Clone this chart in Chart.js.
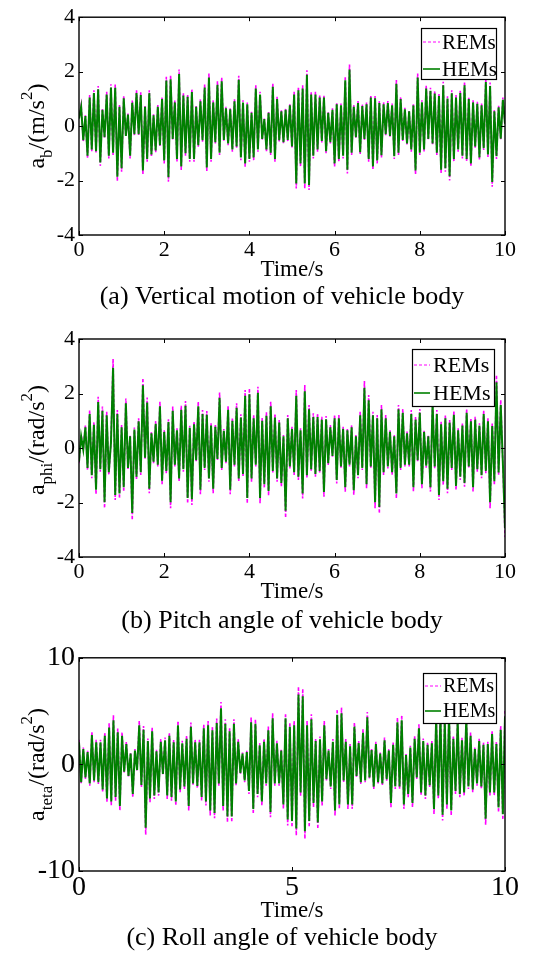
<!DOCTYPE html>
<html>
<head>
<meta charset="utf-8">
<script src="https://cdn.jsdelivr.net/npm/chart.js@4/dist/chart.umd.min.js"></script>
<style>
html,body{margin:0;padding:0;background:#fff;}
body{width:536px;height:958px;position:relative;overflow:hidden;}
.cv{position:absolute;left:0;display:block;}
</style>
</head>
<body>
<canvas id="c1" class="cv" style="top:0px" width="536" height="313"></canvas>
<canvas id="c2" class="cv" style="top:313px" width="536" height="324"></canvas>
<canvas id="c3" class="cv" style="top:637px" width="536" height="321"></canvas>
<script>
// ---------- data ----------
const T_END = 10;
const seriesNames = ['REMs', 'HEMs'];
const xTicksAB = [0, 2, 4, 6, 8, 10];
const yTicksAB = [-4, -2, 0, 2, 4];
const xTicksC = [0, 5, 10];
const yTicksC = [-10, 0, 10];
const captions = ['(a) Vertical motion of vehicle body', '(b) Pitch angle of vehicle body', '(c) Roll angle of vehicle body'];
const xTitle = 'Time/s';

// (a) vertical acceleration of body, m/s^2
const rems1 = [
0.3, 0.77, -0.57, 0.4, -1.19, 1.14, -0.94, 1.32, -1.0, 1.47,
-1.46, 0.65, -0.45, 1.26, -1.19, 1.54, -1.06, 1.53, -2.02, 0.77,
-1.68, 1.11, -0.39, 0.46, -1.19, 0.94, -0.33, 1.32, -0.33, 1.24,
-1.77, 0.77, -1.31, 1.32, -1.13, 0.43, -0.97, 0.77, -0.76, 1.08,
-1.37, 1.81, -2.04, 1.87, -0.51, 0.95, -1.31, 2.08, -1.61, 1.22,
-1.09, 1.17, -1.31, 1.36, -1.31, 0.77, -0.76, 0.99, -0.57, 1.54,
-1.65, 1.93, -1.31, 0.95, -0.64, 1.65, -1.06, 1.79, -0.55, 0.71,
-0.70, 0.67, -0.94, 0.99, -0.82, 1.85, -1.25, 0.95, -1.49, 0.87,
-1.31, 0.53, -1.25, 1.50, -0.94, 1.26, -0.51, 0.28, -0.94, 0.53,
-1.06, 1.57, -1.31, 1.08, -0.57, 0.59, -0.64, 0.65,
-0.55, 0.83, -0.82, 1.26, -2.29, 1.44, -1.49, 1.50, -2.29, 2.05,
-2.35, 1.26, -1.19, 1.26, -0.94, 1.14, -0.60, 1.14, -1.0, 0.53,
-0.64, 0.65, -1.49, 0.87, -1.31, 0.83, -1.19, 1.83, -1.74, 2.26,
-1.06, 0.77, -0.45, 0.92, -1.04, 0.80, -0.51, 0.87, -1.31, 1.14,
-1.61, 1.11, -1.37, 0.92, -1.16, 0.87, -0.33, 0.92, -0.39, 0.83,
-1.21, 1.69, -1.06, 1.08, -0.55, 0.67, -0.70, 0.59, -0.94, 0.83,
-1.77, 1.93, -1.06, 0.95, -0.94, 1.5, -0.51, 1.41, -0.70, 1.3,
-1.06, 1.2, -1.74, 1.63, -1.68, 1.1, -2.0, 1.32, -1.31, 1.14,
-0.94, 1.32, -1.19, 1.63, -1.31, 1.08, -1.49, 0.95, -0.82, 0.89,
-1.25, 0.83, -0.88, 1.76, -1.13, 1.6, -2.23, 0.59, -1.21, 0.75,
-0.5, 1.05, 0.1
];
const hems1 = [
0.28, 0.71, -0.52, 0.37, -1.09, 1.05, -0.86, 1.21, -0.92, 1.35,
-1.34, 0.60, -0.41, 1.16, -1.09, 1.42, -0.98, 1.41, -1.86, 0.71,
-1.55, 1.02, -0.36, 0.42, -1.09, 0.86, -0.30, 1.21, -0.30, 1.14,
-1.63, 0.71, -1.21, 1.21, -1.04, 0.40, -0.89, 0.71, -0.70, 0.99,
-1.26, 1.67, -1.88, 1.72, -0.47, 0.87, -1.21, 1.91, -1.48, 1.12,
-1.00, 1.08, -1.21, 1.25, -1.21, 0.71, -0.70, 0.91, -0.52, 1.42,
-1.52, 1.78, -1.21, 0.87, -0.59, 1.52, -0.98, 1.65, -0.51, 0.65,
-0.64, 0.62, -0.86, 0.91, -0.75, 1.70, -1.15, 0.87, -1.37, 0.80,
-1.21, 0.49, -1.15, 1.38, -0.86, 1.16, -0.47, 0.26, -0.86, 0.49,
-0.98, 1.44, -1.21, 0.99, -0.52, 0.54, -0.59, 0.60,
-0.51, 0.76, -0.75, 1.16, -2.11, 1.32, -1.37, 1.38, -2.11, 1.89,
-2.16, 1.16, -1.09, 1.16, -0.86, 1.05, -0.55, 1.05, -0.92, 0.49,
-0.59, 0.60, -1.37, 0.80, -1.21, 0.76, -1.09, 1.68, -1.60, 2.08,
-0.98, 0.71, -0.41, 0.85, -0.96, 0.74, -0.47, 0.80, -1.21, 1.05,
-1.48, 1.02, -1.26, 0.85, -1.07, 0.80, -0.30, 0.85, -0.36, 0.76,
-1.11, 1.55, -0.98, 0.99, -0.51, 0.62, -0.64, 0.54, -0.86, 0.76,
-1.63, 1.78, -0.98, 0.87, -0.86, 1.38, -0.47, 1.30, -0.64, 1.20,
-0.98, 1.10, -1.60, 1.50, -1.55, 1.01, -1.84, 1.21, -1.21, 1.05,
-0.86, 1.21, -1.09, 1.50, -1.21, 0.99, -1.37, 0.87, -0.75, 0.82,
-1.15, 0.76, -0.81, 1.62, -1.04, 1.47, -2.05, 0.54, -1.11, 0.69,
-0.46, 0.97, 0.09
];

// (b) pitch angular acceleration, rad/s^2
const rems2 = [
-0.56, 0.48, -0.07, 0.84, -0.81, 1.39, -1.11, 0.94, -1.70, 1.88,
-0.87, 1.52, -2.21, 1.33, -0.99, 0.2, 3.27, -1.91, 1.39, -1.85,
0.84, -1.60, 1.82, -0.81, 0.48, -2.64, 0.75, -1.17, 1.09, -0.99,
2.56, -0.4, 1.85, -1.66, 0.60, -0.56, 0.99, -0.68, 1.70, -1.33,
0.66, -0.93, 1.05, -2.21, 1.52, -0.68, 0.72, -1.24, 1.55, -0.87,
1.72, -2.03, 0.82, -2.09, 0.97, -0.50, 1.70, -1.70, 1.39, -0.81,
1.36, -1.24, 0.91, -1.66, 0.87, -0.44, 2.04, -0.81, 0.70, -0.56,
1.55, -1.70, 1.11, -0.68, 1.64, -1.24, 1.24, -1.05, 2.13, -2.03,
2.19, -1.24, 1.21, -0.68, 2.25, -2.03, 1.11, -1.48, 1.31, -1.75,
1.70, -0.93, 1.24, -1.24, 1.03, -1.42, 0.48, -2.56,
1.21, -0.75, 0.78, -0.99, 2.13, -1.17, 0.72, -1.85, 2.31, -1.11,
1.58, -0.87, 1.27, -1.05, 1.27, -0.93, 1.15, -1.79, 1.17, -0.62,
0.84, -0.32, 1.21, -1.30, 1.21, -0.75, 0.78, -1.60, 0.72, -0.68,
0.84, -1.72, 0.48, -1.11, 1.33, -0.81, 2.46, -1.48, 1.94, -0.75,
1.33, -2.21, 1.21, -2.40, 1.58, -0.99, 1.21, -0.75, 0.66, -0.99,
0.48, -1.85, 1.58, -0.81, 1.43, -0.68, 0.60, -0.68, 1.39, -1.60,
1.15, -0.50, 1.43, -1.48, 0.66, -0.72, 0.48, -1.60, 1.8, -0.75,
1.39, -1.91, 0.97, -1.36, 1.21, -1.66, 1.03, -0.81, 1.36, -1.54,
0.72, -1.17, 0.91, -1.42, 1.43, -0.75, 1.09, -1.60, 1.15, -0.87,
0.91, -1.11, 1.39, -0.93, 1.09, -2.21, 0.9, -1.36, 2.68, -1.0,
1.76, -0.6, -3.27
];
const hems2 = [
-0.50, 0.43, -0.06, 0.76, -0.73, 1.25, -1.00, 0.85, -1.53, 1.69,
-0.78, 1.37, -1.99, 1.20, -0.89, 0.18, 2.94, -1.72, 1.25, -1.67,
0.76, -1.44, 1.64, -0.73, 0.43, -2.38, 0.68, -1.05, 0.98, -0.89,
2.30, -0.36, 1.67, -1.49, 0.54, -0.50, 0.89, -0.61, 1.53, -1.20,
0.59, -0.84, 0.95, -1.99, 1.37, -0.61, 0.65, -1.12, 1.40, -0.78,
1.55, -1.83, 0.74, -1.88, 0.87, -0.45, 1.53, -1.53, 1.25, -0.73,
1.22, -1.12, 0.82, -1.49, 0.78, -0.40, 1.84, -0.73, 0.63, -0.50,
1.40, -1.53, 1.00, -0.61, 1.48, -1.12, 1.12, -0.95, 1.92, -1.83,
1.97, -1.12, 1.09, -0.61, 2.03, -1.83, 1.00, -1.33, 1.18, -1.58,
1.53, -0.84, 1.12, -1.12, 0.93, -1.28, 0.43, -2.30,
1.09, -0.68, 0.70, -0.89, 1.92, -1.05, 0.65, -1.67, 2.08, -1.00,
1.42, -0.78, 1.14, -0.95, 1.14, -0.84, 1.04, -1.61, 1.05, -0.56,
0.76, -0.29, 1.09, -1.17, 1.09, -0.68, 0.70, -1.44, 0.65, -0.61,
0.76, -1.55, 0.43, -1.00, 1.20, -0.73, 2.21, -1.33, 1.75, -0.68,
1.20, -1.99, 1.09, -2.16, 1.42, -0.89, 1.09, -0.68, 0.59, -0.89,
0.43, -1.67, 1.42, -0.73, 1.29, -0.61, 0.54, -0.61, 1.25, -1.44,
1.04, -0.45, 1.29, -1.33, 0.59, -0.65, 0.43, -1.44, 1.62, -0.68,
1.25, -1.72, 0.87, -1.22, 1.09, -1.49, 0.93, -0.73, 1.22, -1.39,
0.65, -1.05, 0.82, -1.28, 1.29, -0.68, 0.98, -1.44, 1.04, -0.78,
0.82, -1.00, 1.25, -0.84, 0.98, -1.99, 0.81, -1.22, 2.41, -0.90,
1.58, -0.54, -2.94
];

// (c) roll angular acceleration, rad/s^2
const rems3 = [
2.31, -1.84, 1.59, -1.37, 1.28, -1.99, 3.05, -1.68, 2.31, -1.84,
2.31, -2.62, 2.99, -3.55, 3.86, -3.86, 4.61, -3.40, 3.36, -4.33,
2.99, -0.75, 2.12, -1.21, 1.12, -3.08, 1.43, -0.59, 4.08, -2.15,
3.61, -6.60, 2.43, -3.55, 3.46, -3.24, 1.37, -2.93, 2.37, -1.0,
2.52, -3.24, 2.99, -3.40, 2.31, -3.86, 4.08, -2.62, 2.21, -2.31,
2.68, -4.33, 3.93, -1.99, 2.31, -2.24, 2.31, -3.40, 3.77, -3.86,
4.08, -4.80, 3.55, -5.05, 4.30, -1.99, 5.86, -4.33, 4.24, -5.42,
3.46, -5.42, 4.24, -1.99, 2.37, -0.90, 1.12, -1.68, 1.28, -2.77,
4.39, -4.64, 4.24, -3.08, 2.0, -3.86, 2.37, -1.99, 3.55, -4.95,
4.80, -1.99, 2.21, -1.99, 1.43, -4.17, 4.80, -5.73,
3.93, -5.89, 4.08, -6.67, 7.29, -2.93, 7.10, -6.98, 4.08, -5.89,
4.70, -4.02, 2.43, -6.04, 2.62, -3.86, 4.08, -1.53, 1.43, -2.31,
2.37, -4.80, 5.17, -4.17, 5.33, -1.68, 2.37, -4.17, 1.90, -4.17,
3.93, -1.21, 2.21, -1.84, 3.30, -1.68, 4.92, -1.37, 1.50, -2.31,
2.12, -1.84, 1.12, -1.99, 2.52, -1.53, 1.43, -4.02, 2.06, -2.31,
4.39, -2.31, 4.61, -4.17, 0.97, -3.08, 1.74, -4.02, 2.68, -1.37,
3.77, -2.93, 2.43, -3.24, 2.06, -2.15, 2.21, -4.64, 4.8, -3.24,
5.0, -5.26, 4.5, -4.17, 5.2, -4.80, 2.68, -2.77, 4.5, -3.08,
2.5, -2.93, 4.8, -2.31, 2.99, -2.62, 1.59, -1.99, 2.43, -2.31,
2.06, -5.67, 2.12, -2.93, 3.15, -2.93, 2.12, -4.49, 3.6, -5.2, 5.0
];
const hems3 = [
2.08, -1.66, 1.43, -1.23, 1.15, -1.79, 2.75, -1.51, 2.08, -1.66,
2.08, -2.36, 2.69, -3.20, 3.47, -3.47, 4.15, -3.06, 3.02, -3.90,
2.69, -0.68, 1.91, -1.09, 1.01, -2.77, 1.29, -0.53, 3.67, -1.94,
3.25, -5.94, 2.19, -3.20, 3.11, -2.92, 1.23, -2.64, 2.13, -0.90,
2.27, -2.92, 2.69, -3.06, 2.08, -3.47, 3.67, -2.36, 1.99, -2.08,
2.41, -3.90, 3.54, -1.79, 2.08, -2.02, 2.08, -3.06, 3.39, -3.47,
3.67, -4.32, 3.20, -4.55, 3.87, -1.79, 5.27, -3.90, 3.82, -4.88,
3.11, -4.88, 3.82, -1.79, 2.13, -0.81, 1.01, -1.51, 1.15, -2.49,
3.95, -4.18, 3.82, -2.77, 1.80, -3.47, 2.13, -1.79, 3.20, -4.46,
4.32, -1.79, 1.99, -1.79, 1.29, -3.75, 4.32, -5.16,
3.54, -5.30, 3.67, -6.00, 6.56, -2.64, 6.39, -6.28, 3.67, -5.30,
4.23, -3.62, 2.19, -5.44, 2.36, -3.47, 3.67, -1.38, 1.29, -2.08,
2.13, -4.32, 4.65, -3.75, 4.80, -1.51, 2.13, -3.75, 1.71, -3.75,
3.54, -1.09, 1.99, -1.66, 2.97, -1.51, 4.43, -1.23, 1.35, -2.08,
1.91, -1.66, 1.01, -1.79, 2.27, -1.38, 1.29, -3.62, 1.85, -2.08,
3.95, -2.08, 4.15, -3.75, 0.87, -2.77, 1.57, -3.62, 2.41, -1.23,
3.39, -2.64, 2.19, -2.92, 1.85, -1.94, 1.99, -4.18, 4.32, -2.92,
4.50, -4.73, 4.05, -3.75, 4.68, -4.32, 2.41, -2.49, 4.05, -2.77,
2.25, -2.64, 4.32, -2.08, 2.69, -2.36, 1.43, -1.79, 2.19, -2.08,
1.85, -5.10, 1.91, -2.64, 2.84, -2.64, 1.91, -4.04, 3.24, -4.68, 4.50
];

// ---------- rendering ----------
const FONT = "'Liberation Serif', 'Times New Roman', Times, serif";
Chart.defaults.font.family = FONT;
Chart.defaults.color = '#000';

const boxPlugin = {
  id: 'matBox',
  afterLayout(chart) {
    // let the y tick labels use the whole left margin (labels are not clipped to the narrow axis box)
    chart.scales.y.left = 0;
  },
  afterDatasetsDraw(chart) {
    const {ctx, chartArea: a, scales: {x, y}} = chart;
    ctx.save();
    ctx.strokeStyle = '#000';
    ctx.lineWidth = 1;
    ctx.beginPath();
    x.ticks.forEach(t => {
      const px = Math.round(x.getPixelForValue(t.value)) + 0.5;
      ctx.moveTo(px, a.bottom); ctx.lineTo(px, a.bottom - 4);
      ctx.moveTo(px, a.top); ctx.lineTo(px, a.top + 4);
    });
    y.ticks.forEach(t => {
      const py = Math.round(y.getPixelForValue(t.value)) + 0.5;
      ctx.moveTo(a.left, py); ctx.lineTo(a.left + 4, py);
      ctx.moveTo(a.right, py); ctx.lineTo(a.right - 4, py);
    });
    ctx.stroke();
    ctx.lineWidth = 1.4;
    ctx.strokeRect(a.left, a.top, a.right - a.left, a.bottom - a.top);
    ctx.restore();
  }
};

const richYPlugin = {
  id: 'richY',
  afterDraw(chart, args, o) {
    const {ctx, chartArea: a} = chart;
    const size = o.size, small = Math.round(size * 0.72);
    ctx.save();
    let w = 0;
    o.segments.forEach(sg => {
      ctx.font = (sg.s ? small : size) + 'px ' + FONT;
      w += ctx.measureText(sg.t).width;
    });
    const cy = (a.top + a.bottom) / 2 + (o.dy || 0);
    ctx.translate(o.x, cy);
    ctx.rotate(-Math.PI / 2);
    ctx.textBaseline = 'alphabetic';
    ctx.textAlign = 'left';
    ctx.fillStyle = '#000';
    let px = -w / 2;
    o.segments.forEach(sg => {
      ctx.font = (sg.s ? small : size) + 'px ' + FONT;
      const off = sg.s === 'sub' ? size * 0.32 : (sg.s === 'sup' ? -size * 0.5 : 0);
      ctx.fillText(sg.t, px, off);
      px += ctx.measureText(sg.t).width;
    });
    ctx.restore();
  }
};

const legendPlugin = {
  id: 'boxLegend',
  afterDraw(chart, args, o) {
    const {ctx, chartArea: a} = chart;
    const x1 = Math.round(a.right - o.right - o.w), y1 = Math.round(a.top + o.top);
    ctx.save();
    ctx.fillStyle = '#fff';
    ctx.fillRect(x1, y1, o.w, o.h);
    ctx.strokeStyle = '#000';
    ctx.lineWidth = 1.2;
    ctx.strokeRect(x1 + 0.5, y1 + 0.5, o.w - 1, o.h - 1);
    chart.data.datasets.forEach((ds, i) => {
      const cy = y1 + o.rows[i];
      ctx.strokeStyle = ds.borderColor;
      ctx.lineWidth = ds.legendWidth;
      ctx.setLineDash(ds.borderDash || []);
      ctx.beginPath();
      ctx.moveTo(x1 + o.lx0, cy); ctx.lineTo(x1 + o.lx1, cy);
      ctx.stroke();
      ctx.setLineDash([]);
      ctx.fillStyle = '#000';
      ctx.font = o.size + 'px ' + FONT;
      ctx.textBaseline = 'middle';
      ctx.textAlign = 'left';
      ctx.fillText(ds.label, x1 + o.tx, cy + 1);
    });
    ctx.restore();
  }
};

function makeChart(id, rems, hems, opt) {
  const n = rems.length;
  const times = rems.map((_, i) => i * T_END / (n - 1));
  const remsPts = rems.map((v, i) => ({x: times[i], y: v}));
  const hemsPts = hems.map((v, i) => ({x: times[i], y: v}));
  return new Chart(document.getElementById(id), {
    type: 'line',
    data: {
      datasets: [
        {label: seriesNames[0], data: remsPts, borderColor: '#ff00ff', borderWidth: 1.6, borderDash: [3, 2],
         legendWidth: 1, pointRadius: 0, fill: false, tension: 0, order: 1},
        {label: seriesNames[1], data: hemsPts, borderColor: '#008000', borderWidth: 2,
         legendWidth: 1.6, pointRadius: 0, fill: false, tension: 0, order: 0}
      ]
    },
    options: {
      responsive: false,
      animation: false,
      devicePixelRatio: 1,
      layout: {padding: {top: opt.padTop, right: 31, left: 59, bottom: opt.padBottom}},
      plugins: {
        legend: {display: false},
        tooltip: {enabled: false},
        title: {display: true, position: 'bottom', text: opt.caption, color: '#000',
                font: {family: FONT, size: 26, weight: 'normal'}, padding: {top: 0, bottom: 0}},
        richY: {segments: opt.ySegs, size: 24, x: 44, dy: opt.yDy || 0},
        boxLegend: opt.legend
      },
      scales: {
        x: {
          type: 'linear', min: 0, max: T_END,
          grid: {display: false, drawTicks: false}, border: {display: false},
          afterBuildTicks: s => { s.ticks = opt.xTicks.map(v => ({value: v})); },
          afterFit: s => { s.height = opt.xH; },
          ticks: {autoSkip: false, maxRotation: 0, padding: opt.xPad, color: '#000',
                  font: {family: FONT, size: opt.tickSize}},
          title: {display: true, text: xTitle, color: '#000', font: {family: FONT, size: 23, lineHeight: 1},
                  padding: {top: 0, bottom: opt.tPad}}
        },
        y: {
          type: 'linear', min: opt.yTicks[0], max: opt.yTicks[opt.yTicks.length - 1],
          grid: {display: false, drawTicks: false}, border: {display: false},
          afterBuildTicks: s => { s.ticks = opt.yTicks.map(v => ({value: v})); },
          afterFit: s => { s.width = 20; },
          ticks: {autoSkip: false, padding: 4, color: '#000', font: {family: FONT, size: opt.tickSize}}
        }
      }
    },
    plugins: [boxPlugin, richYPlugin, legendPlugin]
  });
}

makeChart('c1', rems1, hems1, {
  padTop: 17, padBottom: 0, xH: 46.8, xPad: 2, tPad: 0, tickSize: 22,
  xTicks: xTicksAB, yTicks: yTicksAB, caption: captions[0],
  ySegs: [{t: 'a'}, {t: 'b', s: 'sub'}, {t: '/(m/s'}, {t: '2', s: 'sup'}, {t: ')'}],
  legend: {w: 76, h: 52, right: 8, top: 11, rows: [14, 41], lx0: 2, lx1: 19, tx: 21, size: 21}
});
makeChart('c2', rems2, hems2, {
  padTop: 26, padBottom: 0, xH: 48.8, xPad: 2, tPad: 2, tickSize: 22,
  xTicks: xTicksAB, yTicks: yTicksAB, caption: captions[1], yDy: -8,
  ySegs: [{t: 'a'}, {t: 'phi', s: 'sub'}, {t: '/(rad/s'}, {t: '2', s: 'sup'}, {t: ')'}],
  legend: {w: 83, h: 58, right: 10, top: 10, rows: [16, 44], lx0: 2, lx1: 18, tx: 21, size: 22}
});
makeChart('c3', rems3, hems3, {
  padTop: 20, padBottom: 4, xH: 51.8, xPad: 0, tPad: 0, tickSize: 28,
  xTicks: xTicksC, yTicks: yTicksC, caption: captions[2],
  ySegs: [{t: 'a'}, {t: 'teta', s: 'sub'}, {t: '/(rad/s'}, {t: '2', s: 'sup'}, {t: ')'}],
  legend: {w: 74, h: 51, right: 8, top: 15, rows: [13, 38], lx0: 2, lx1: 18, tx: 20, size: 20}
});
</script>
</body>
</html>
